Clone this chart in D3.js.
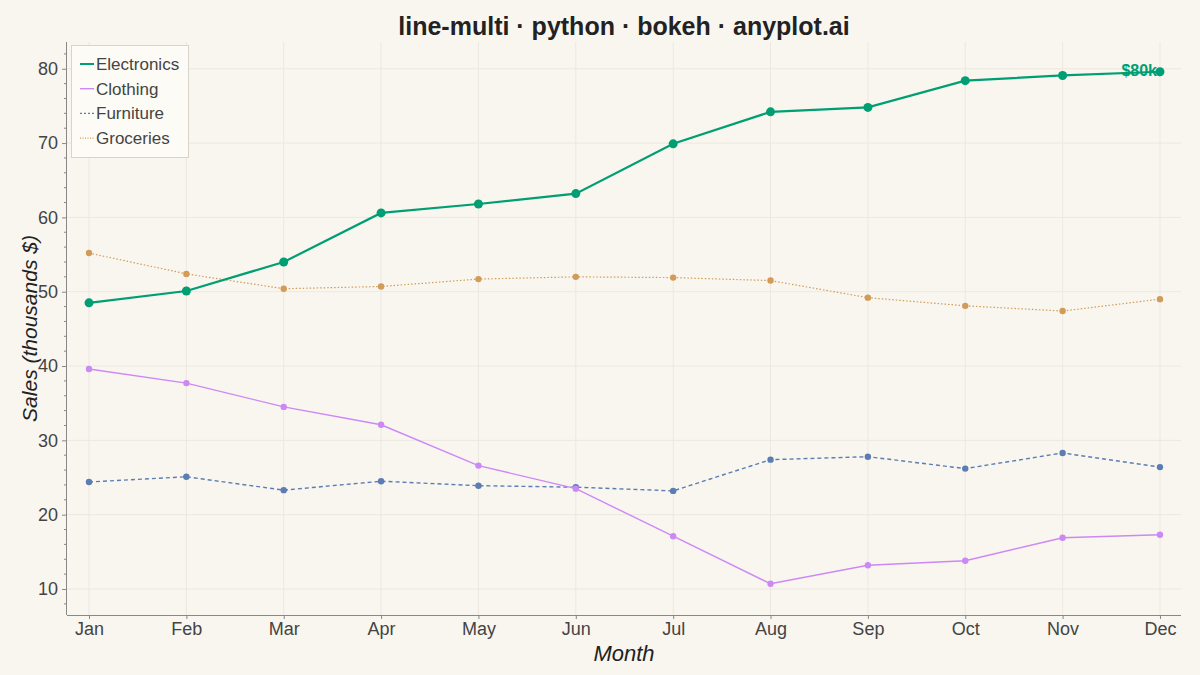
<!DOCTYPE html>
<html>
<head>
<meta charset="utf-8">
<script src="https://cdn.jsdelivr.net/npm/d3@7"></script>
<style>
  html, body { margin: 0; padding: 0; background: #F9F6F0; }
  svg { display: block; font-family: "Liberation Sans", Arial, sans-serif; }
</style>
</head>
<body>
<div id="chartContainer"></div>
<script>
const months = ['Jan', 'Feb', 'Mar', 'Apr', 'May', 'Jun', 'Jul', 'Aug', 'Sep', 'Oct', 'Nov', 'Dec'];
const electronics = [48.5, 50.1, 54.0, 60.6, 61.8, 63.2, 69.9, 74.2, 74.8, 78.4, 79.1, 79.6];
const clothing = [39.6, 37.7, 34.5, 32.1, 26.6, 23.5, 17.1, 10.7, 13.2, 13.8, 16.9, 17.3];
const furniture = [24.4, 25.1, 23.3, 24.5, 23.9, 23.7, 23.2, 27.4, 27.8, 26.2, 28.3, 26.4];
const groceries = [55.2, 52.4, 50.4, 50.7, 51.7, 52.0, 51.9, 51.5, 49.2, 48.1, 47.4, 49.0];
const yTicks = [10, 20, 30, 40, 50, 60, 70, 80];

const series = [
    { name: 'Electronics', values: electronics, color: '#009E73', width: 2.2, dash: null, r: 4.5 },
    { name: 'Clothing', values: clothing, color: '#CC88F5', width: 1.4, dash: null, r: 3.2 },
    { name: 'Furniture', values: furniture, color: '#5B7DB3', width: 1.4, dash: '4,3', r: 3.2 },
    { name: 'Groceries', values: groceries, color: '#D29B58', width: 1.2, dash: '1.5,2', r: 3.2 }
];

const width = 1200;
const height = 675;
const margin = { top: 42, right: 19, bottom: 60, left: 67 };

const svg = d3.select('#chartContainer')
    .append('svg')
    .attr('width', width)
    .attr('height', height)
    .style('background', '#F9F6F0');

const scaleX = d3.scaleLinear()
    .domain([-0.226, 11.216])
    .range([margin.left, width - margin.right]);

const scaleY = d3.scaleLinear()
    .domain([6.5, 83.6])
    .range([height - margin.bottom, margin.top]);

// grid
const grid = svg.append('g').attr('class', 'grid');
grid.selectAll('line.vx')
    .data(months)
    .enter()
    .append('line')
    .attr('x1', (d, i) => scaleX(i))
    .attr('x2', (d, i) => scaleX(i))
    .attr('y1', margin.top)
    .attr('y2', height - margin.bottom)
    .attr('stroke', '#ECE8E0')
    .attr('stroke-width', 1);
grid.selectAll('line.hy')
    .data(yTicks)
    .enter()
    .append('line')
    .attr('x1', margin.left)
    .attr('x2', width - margin.right)
    .attr('y1', d => scaleY(d))
    .attr('y2', d => scaleY(d))
    .attr('stroke', '#ECE8E0')
    .attr('stroke-width', 1);

// lines + points
const lineMaker = d3.line()
    .x((d, i) => scaleX(i))
    .y(d => scaleY(d));

const drawOrder = [series[3], series[2], series[1], series[0]];
drawOrder.forEach(s => {
    svg.append('path')
        .attr('d', lineMaker(s.values))
        .attr('fill', 'none')
        .attr('stroke', s.color)
        .attr('stroke-width', s.width)
        .attr('stroke-dasharray', s.dash);
    svg.append('g')
        .selectAll('circle')
        .data(s.values)
        .enter()
        .append('circle')
        .attr('cx', (d, i) => scaleX(i))
        .attr('cy', d => scaleY(d))
        .attr('r', s.r)
        .attr('fill', s.color);
});

// end label
const lastE = electronics[electronics.length - 1];
svg.append('text')
    .attr('x', scaleX(11) - 3)
    .attr('y', scaleY(lastE) + 4)
    .attr('text-anchor', 'end')
    .attr('font-size', 16)
    .attr('font-weight', 'bold')
    .attr('fill', '#009E73')
    .text('$' + Math.round(lastE) + 'k');

// X axis
const xAxis = svg.append('g')
    .attr('transform', `translate(0, ${height - margin.bottom})`)
    .call(d3.axisBottom(scaleX)
        .tickValues(d3.range(months.length))
        .tickFormat(i => months[i])
        .tickSizeInner(4)
        .tickSizeOuter(0)
        .tickPadding(3));
xAxis.select('.domain').attr('stroke', '#888').attr('d', `M${margin.left},0.5H${width - margin.right}`);
xAxis.selectAll('.tick line').attr('stroke', '#888');
xAxis.selectAll('.tick text').attr('font-size', 18).attr('fill', '#444').attr('font-family', '"Liberation Sans", Arial, sans-serif');

// Y axis
const yMinor = d3.range(8, 84, 2).filter(v => v % 10 !== 0);
svg.append('g')
    .attr('transform', `translate(${margin.left}, 0)`)
    .selectAll('line')
    .data(yMinor)
    .enter()
    .append('line')
    .attr('x1', -3)
    .attr('x2', 0)
    .attr('y1', d => scaleY(d))
    .attr('y2', d => scaleY(d))
    .attr('stroke', '#888');

const yAxis = svg.append('g')
    .attr('transform', `translate(${margin.left}, 0)`)
    .call(d3.axisLeft(scaleY)
        .tickValues(yTicks)
        .tickSizeInner(5)
        .tickSizeOuter(0)
        .tickPadding(4));
yAxis.select('.domain').attr('stroke', '#888').attr('d', `M-0.5,${margin.top}V${height - margin.bottom}`);
yAxis.selectAll('.tick line').attr('stroke', '#888');
yAxis.selectAll('.tick text').attr('font-size', 18).attr('fill', '#444').attr('font-family', '"Liberation Sans", Arial, sans-serif');

// axis titles
svg.append('text')
    .attr('x', (margin.left + width - margin.right) / 2)
    .attr('y', 661)
    .attr('text-anchor', 'middle')
    .attr('font-size', 22)
    .attr('font-style', 'italic')
    .attr('fill', '#222')
    .text('Month');

svg.append('text')
    .attr('transform', `translate(37, ${(margin.top + height - margin.bottom) / 2}) rotate(-90)`)
    .attr('text-anchor', 'middle')
    .attr('font-size', 21)
    .attr('font-style', 'italic')
    .attr('fill', '#222')
    .text('Sales (thousands $)');

// title
svg.append('text')
    .attr('x', 624)
    .attr('y', 35)
    .attr('text-anchor', 'middle')
    .attr('font-size', 25)
    .attr('font-weight', 'bold')
    .attr('fill', '#222')
    .text('line-multi · python · bokeh · anyplot.ai');

// legend
const legend = svg.append('g').attr('transform', 'translate(71, 45)');
legend.append('rect')
    .attr('x', 0.5)
    .attr('y', 0.5)
    .attr('width', 117)
    .attr('height', 112)
    .attr('fill', '#FDFBF6')
    .attr('stroke', '#D8D4CC');
const items = legend.selectAll('g.item')
    .data(series)
    .enter()
    .append('g')
    .attr('transform', (d, i) => `translate(0, ${19 + i * 24.7})`);
items.append('line')
    .attr('x1', 9)
    .attr('x2', 23)
    .attr('y1', 0)
    .attr('y2', 0)
    .attr('stroke', d => d.color)
    .attr('stroke-width', d => d.name === 'Electronics' ? 2 : 1.4)
    .attr('stroke-dasharray', d => d.name === 'Furniture' ? '2,2' : (d.name === 'Groceries' ? '1,1.5' : null));
items.append('text')
    .attr('x', 25)
    .attr('y', 6)
    .attr('font-size', 17)
    .attr('fill', '#444')
    .text(d => d.name);
</script>
</body>
</html>
